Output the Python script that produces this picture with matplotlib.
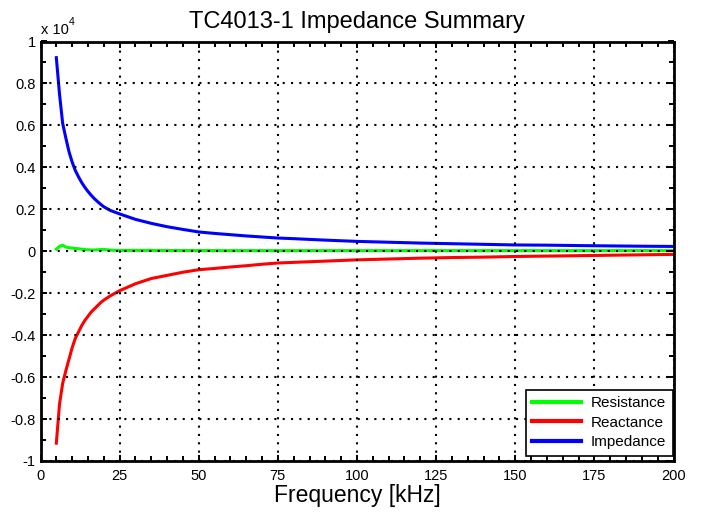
import matplotlib
matplotlib.use("Agg")
import matplotlib.pyplot as plt
from matplotlib.ticker import MultipleLocator, FuncFormatter

plt.rcParams['font.family'] = ['Liberation Sans', 'DejaVu Sans']
plt.rcParams['axes.unicode_minus'] = False

# Frequency [kHz]
freq = [5, 6, 7, 8, 9, 10, 11, 12, 13, 14, 15, 16, 17, 18, 19, 20, 22, 25,
        30, 35, 40, 45, 50, 55, 60, 65, 70, 75, 80, 90, 100, 110, 120, 130,
        140, 150, 160, 170, 180, 190, 200]
# Ohms
resistance = [100, 230, 290, 200, 170, 150, 130, 120, 100, 80, 70, 60, 60, 70,
              80, 90, 50, 40, 40, 40, 35, 35, 35, 30, 30, 30, 30, 30, 30, 30,
              30, 30, 30, 30, 30, 30, 30, 30, 30, 30, 30]
reactance = [-9150, -7300, -6300, -5700, -5150, -4600, -4150, -3850, -3550,
             -3300, -3100, -2900, -2750, -2600, -2450, -2330, -2130, -1880,
             -1550, -1300, -1150, -1000, -880, -820, -750, -690, -620, -560,
             -530, -470, -410, -370, -330, -300, -280, -250, -230, -210, -190,
             -170, -150]
impedance = [9230, 7500, 6100, 5400, 4750, 4250, 3850, 3550, 3280, 3050, 2850,
             2670, 2510, 2370, 2240, 2120, 1950, 1780, 1520, 1330, 1170, 1040,
             920, 850, 790, 730, 680, 630, 600, 530, 470, 430, 390, 360, 330,
             300, 290, 270, 255, 240, 230]
scale = 1e4

fig = plt.figure(figsize=(7.03, 5.12), dpi=100)
ax = fig.add_axes([40.5/703, 51/512, 633/703, 419.5/512])

lw = 2.2
ax.plot(freq, [v/scale for v in resistance], color=(0, 1, 0), lw=lw, label='Resistance')
ax.plot(freq, [v/scale for v in reactance], color=(1, 0, 0), lw=lw, label='Reactance')
ax.plot(freq, [v/scale for v in impedance], color=(0, 0, 1), lw=lw, label='Impedance')

ax.set_xlim(0, 200)
ax.set_ylim(-1, 1)
ax.xaxis.set_major_locator(MultipleLocator(25))
ax.xaxis.set_minor_locator(MultipleLocator(5))
ax.yaxis.set_major_locator(MultipleLocator(0.2))
ax.yaxis.set_minor_locator(MultipleLocator(0.1))
ax.yaxis.set_major_formatter(FuncFormatter(lambda v, p: '%g' % round(v, 6)))
ax.xaxis.set_major_formatter(FuncFormatter(lambda v, p: '%g' % v))

ax.tick_params(which='both', direction='in', top=True, right=True,
               width=1.44, labelsize=10.5, colors='black')
ax.tick_params(axis='x', which='major', length=4.5, pad=5.5)
ax.tick_params(axis='y', which='major', length=4.5, pad=3.5)
ax.tick_params(which='minor', length=3.5)
for s in ax.spines.values():
    s.set_linewidth(2)

ax.grid(True, which='major', color='black', linestyle=(0, (1, 3)), linewidth=1.5)
ax.set_axisbelow(False)

ax.set_title('TC4013-1 Impedance Summary', fontsize=17, pad=10)
ax.set_xlabel('Frequency [kHz]', fontsize=16.5, labelpad=1)

fig.text(41/703, 1-34.3/512, 'x 10', fontsize=10.5, ha='left', va='baseline')
fig.text(69/703, 1-25/512, '4', fontsize=7.5, ha='left', va='baseline')

leg = ax.legend(loc='lower right', bbox_to_anchor=(0.9992, 0.012),
                borderaxespad=0, fontsize=11, handlelength=3.15,
                handletextpad=0.67, labelspacing=0.35, borderpad=0.45,
                fancybox=False, framealpha=1, edgecolor='black')
leg.get_frame().set_linewidth(1.2)
for line in leg.get_lines():
    line.set_linewidth(3)

fig.savefig('out.png', dpi=100)
